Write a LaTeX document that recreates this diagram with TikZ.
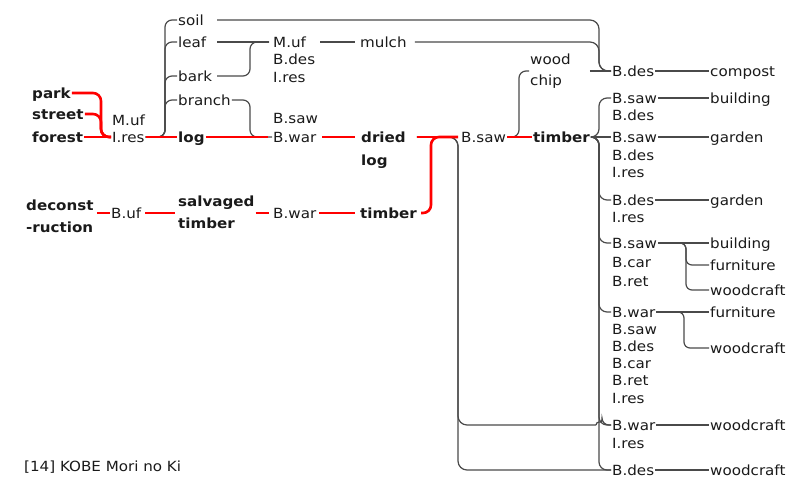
\documentclass[tikz,border=0pt]{standalone}
\usepackage{fontspec}
\setmainfont{DejaVu Sans}[FakeStretch=1.08]
\usetikzlibrary{calc}
\definecolor{linkgray}{HTML}{4A4A4A}
\definecolor{flowred}{HTML}{FF0000}
\definecolor{ink}{HTML}{1A1A1A}

\begin{document}
\begin{tikzpicture}[x=1pt,y=-1pt,
  lbl/.style={anchor=west, inner xsep=1pt, inner ysep=0pt, text height=12.2pt, text depth=2pt,
              font=\fontsize{14}{17}\selectfont, text=ink},
  bold/.style={lbl, font=\fontsize{14}{17}\selectfont\bfseries},
  pair/.style={anchor=west, inner xsep=1pt, inner ysep=0pt, align=left,
               font=\fontsize{14}{22}\selectfont\bfseries, text=ink},
  pairreg/.style={pair, font=\fontsize{14}{21}\selectfont},
  conn/.style={draw=linkgray, line width=1.2pt, rounded corners=7pt},
  flow/.style={draw=flowred, line width=2.6pt, rounded corners=8pt},
]
\useasboundingbox (0,0) rectangle (795,483);

% ---- sources and first steps ----
\node[bold] (park)   at (31,93)  {park};
\node[bold] (street) at (31,114) {street};
\node[bold] (forest) at (31,137) {forest};
\node[lbl]  (muf1)   at (111,120) {M.uf};
\node[lbl]  (ires1)  at (111,137) {I.res};

\node[lbl]  (soil)   at (177,20)  {soil};
\node[lbl]  (leaf)   at (177,42)  {leaf};
\node[lbl]  (bark)   at (177,76)  {bark};
\node[lbl]  (branch) at (177,100) {branch};
\node[bold] (log)    at (177,137) {log};

\node[lbl]  (muf2)   at (272,42)   {M.uf};
\node[lbl]  (bdes2)  at (272,59.5) {B.des};
\node[lbl]  (ires2)  at (272,77)   {I.res};
\node[lbl]  (mulch)  at (359,42)   {mulch};

\node[lbl]  (bsaw2)  at (272,118) {B.saw};
\node[lbl]  (bwar2)  at (272,137) {B.war};
\node[bold] (dried)  at (360,137) {dried};
\node[bold] (dlog)   at (360,160) {log};
\node[lbl]  (bsawm)  at (460,137) {B.saw};
\node[pairreg] (woodchip) at (529,71) {wood\\chip};
\node[bold] (timber) at (532,137) {timber};

% ---- salvaged timber row ----
\node[pair] (decon)   at (25,216)  {deconst\\-ruction};
\node[lbl]  (buf)     at (110,213) {B.uf};
\node[pair] (salv)    at (177,212) {salvaged\\timber};
\node[lbl]  (bwar3)   at (272,213) {B.war};
\node[bold] (timber2) at (359,213) {timber};

% ---- processors on the right ----
\node[lbl] (bdesC) at (611,71)    {B.des};
\node[lbl] (bsawA) at (611,98)    {B.saw};
\node[lbl] (bdesA) at (611,115.5) {B.des};
\node[lbl] (bsawB) at (611,137)   {B.saw};
\node[lbl] (bdesB) at (611,155)   {B.des};
\node[lbl] (iresB) at (611,172)   {I.res};
\node[lbl] (bdesD) at (611,200)   {B.des};
\node[lbl] (iresD) at (611,217)   {I.res};
\node[lbl] (bsawE) at (611,243)   {B.saw};
\node[lbl] (bcarE) at (611,262)   {B.car};
\node[lbl] (bretE) at (611,281)   {B.ret};
\node[lbl] (bwarF) at (611,312)   {B.war};
\node[lbl] (bsawF) at (611,329)   {B.saw};
\node[lbl] (bdesF) at (611,346)   {B.des};
\node[lbl] (bcarF) at (611,363)   {B.car};
\node[lbl] (bretF) at (611,380.5) {B.ret};
\node[lbl] (iresF) at (611,398)   {I.res};
\node[lbl] (bwarG) at (611,425)   {B.war};
\node[lbl] (iresG) at (611,443)   {I.res};
\node[lbl] (bdesH) at (611,470)   {B.des};

% ---- end uses ----
\node[lbl] (compost)   at (709,71)  {compost};
\node[lbl] (building)  at (709,98)  {building};
\node[lbl] (gardenA)   at (709,137) {garden};
\node[lbl] (gardenB)   at (709,200) {garden};
\node[lbl] (buildingE) at (709,243) {building};
\node[lbl] (furnE)     at (709,265) {furniture};
\node[lbl] (woodE)     at (709,290) {woodcraft};
\node[lbl] (furnF)     at (709,312) {furniture};
\node[lbl] (woodF)     at (709,348) {woodcraft};
\node[lbl] (woodG)     at (709,425) {woodcraft};
\node[lbl] (woodH)     at (709,470) {woodcraft};

\node[lbl] (cite) at (23,466) {[14] KOBE Mori no Ki};

\coordinate (spineL) at ($(bsawm.west)+(-2,0)$);
\coordinate (hopL) at ($(bwarG.west)+(-15,0)$);

% ---- grey by-product links ----
\foreach \t in {soil,leaf,bark,branch}
  \draw[conn] (ires1.east) -| ([xshift=-12pt]\t.west) -- (\t.west);
\draw[conn, rounded corners=9pt, shorten <=4pt] (soil.east -| bark.east) -| ([xshift=-12pt]bdesC.west) -- (bdesC.west);
\draw[conn, shorten <=4pt, shorten >=3pt] (leaf.east -| bark.east) -- (muf2.west);
\draw[conn, shorten <=4pt, shorten >=3pt] (bark.east) -| ([xshift=-22pt]muf2.west) -- (muf2.west);
\draw[conn, shorten <=13pt, shorten >=4pt] (muf2.east) -- (mulch.west);
\draw[conn, rounded corners=9pt, shorten <=7pt] (mulch.east) -| ([xshift=-12pt]bdesC.west) -- (bdesC.west);
\draw[conn, shorten <=18pt] (woodchip.east |- bdesC.west) -- (bdesC.west);
\draw[conn] (branch.east) -| ([xshift=-22pt]bwar2.west) -- (bwar2.west);
\draw[conn] (bsawm.east) -| ([xshift=-10pt]woodchip.west) -- (woodchip.west);

\foreach \t in {bsawA,bdesD,bsawE,bwarF,bwarG,bdesH}
  \draw[conn, rounded corners=8pt] (timber.east) -| ([xshift=-12pt]\t.west) -- (\t.west);
\draw[conn] (timber.east) -- (bsawB.west);

\draw[conn, rounded corners=9pt, shorten <=10pt] (dried.east) -| (spineL |- bdesH.west) -- (bdesH.west);
\draw[conn, rounded corners=9pt, shorten <=10pt] (dried.east) -| (spineL |- bwarG.west) -- (hopL);
\draw[conn] (hopL) arc[start angle=180, end angle=360, radius=3] -- (bwarG.west);

\draw[conn] (bdesC.east) -- (compost.west);
\draw[conn] (bsawA.east) -- (building.west);
\draw[conn] (bsawB.east) -- (gardenA.west);
\draw[conn] (bdesD.east) -- (gardenB.west);
\draw[conn] (bsawE.east) -- (buildingE.west);
\draw[conn, rounded corners=6pt] (bsawE.east) -| ([xshift=-23pt]furnE.west) -- (furnE.west);
\draw[conn, rounded corners=6pt] (bsawE.east) -| ([xshift=-23pt]woodE.west) -- (woodE.west);
\draw[conn] (bwarF.east) -- (furnF.west);
\draw[conn, rounded corners=6pt] (bwarF.east) -| ([xshift=-25pt]woodF.west) -- (woodF.west);
\draw[conn] (bwarG.east) -- (woodG.west);
\draw[conn] (bdesH.east) -- (woodH.west);

% ---- red timber flow ----
\draw[flow] (park.east) -| ([xshift=-10pt]ires1.west) -- (ires1.west);
\draw[flow] (street.east) -| ([xshift=-10pt]ires1.west) -- (ires1.west);
\draw[flow] (forest.east) -- (ires1.west);
\draw[flow] (ires1.east) -- (log.west);
\draw[flow, shorten >=4pt] (log.east) -- (bwar2.west);
\draw[flow, shorten <=5pt, shorten >=5pt] (bwar2.east) -- (dried.west);
\draw[flow, shorten <=10pt, shorten >=2pt] (dried.east) -- (bsawm.west);
\draw[flow, shorten <=3pt, shorten >=2pt] (timber2.east) -| ([xshift=-29pt]bsawm.west) -- (bsawm.west);
\draw[flow] (bsawm.east) -- (timber.west);

\draw[flow, shorten <=2pt] (decon.east |- buf.west) -- (buf.west);
\draw[flow, shorten <=3pt, shorten >=2pt] (buf.east) -- (buf.east -| salv.west);
\draw[flow, shorten >=3pt] (salv.east |- bwar3.west) -- (bwar3.west);
\draw[flow, shorten <=2pt, shorten >=4pt] (bwar3.east) -- (timber2.west);
\end{tikzpicture}
\end{document}
